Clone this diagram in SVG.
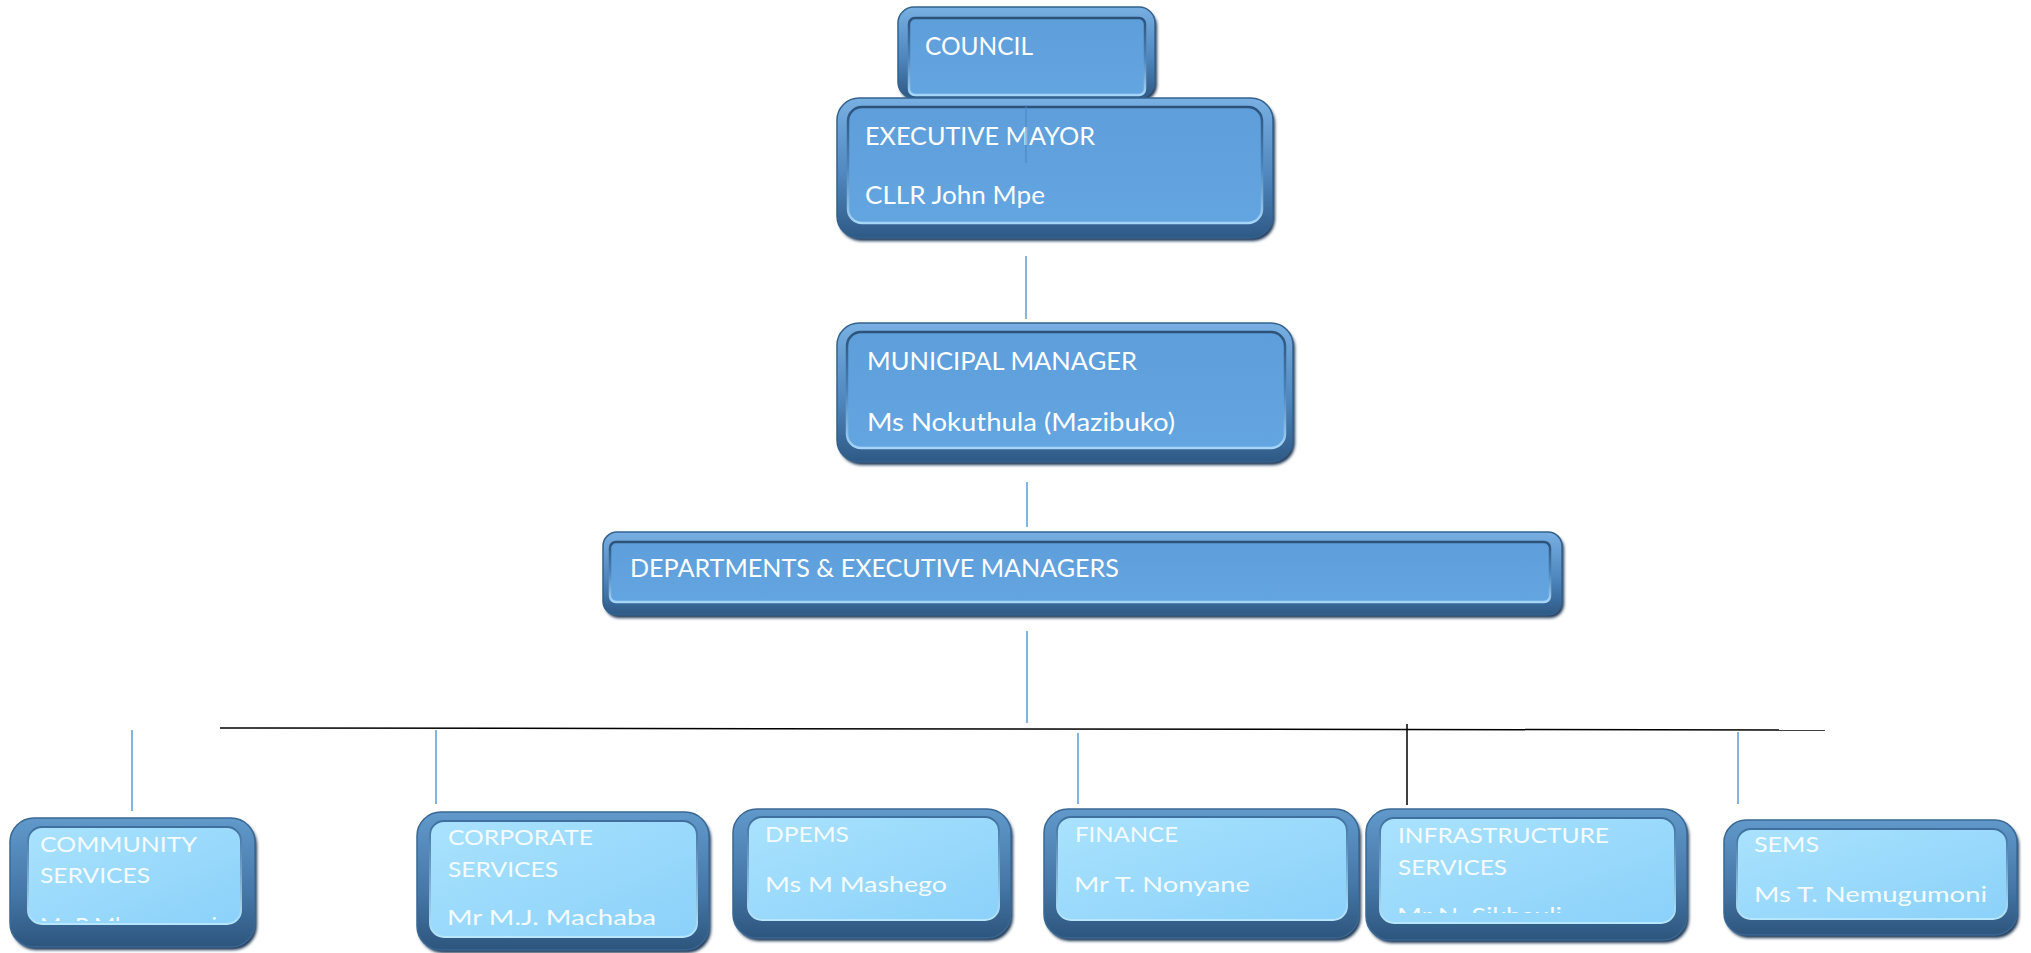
<svg xmlns="http://www.w3.org/2000/svg" width="2031" height="953" viewBox="0 0 2031 953">
<defs>
<linearGradient id="rimT" x1="0" y1="0" x2="0" y2="1">
<stop offset="0" stop-color="#78B0E3"/><stop offset="0.55" stop-color="#4F87BE"/><stop offset="1" stop-color="#2E5985"/>
</linearGradient>
<linearGradient id="faceT" x1="0" y1="0" x2="0" y2="1">
<stop offset="0" stop-color="#5E9FDB"/><stop offset="1" stop-color="#63A5E0"/>
</linearGradient>
<linearGradient id="edgeT" x1="0" y1="0" x2="0" y2="1">
<stop offset="0" stop-color="#2C5279"/><stop offset="0.5" stop-color="#4B82B8"/><stop offset="1" stop-color="#A6D6F8"/>
</linearGradient>
<linearGradient id="rimB" x1="0" y1="0" x2="0" y2="1">
<stop offset="0" stop-color="#6199CB"/><stop offset="0.6" stop-color="#4476A6"/><stop offset="1" stop-color="#2D557D"/>
</linearGradient>
<linearGradient id="faceB" x1="0" y1="0" x2="1" y2="1">
<stop offset="0" stop-color="#A9E2FD"/><stop offset="1" stop-color="#8BD1FA"/>
</linearGradient>
<linearGradient id="edgeB" x1="0" y1="0" x2="0" y2="1">
<stop offset="0" stop-color="#3E6F9E"/><stop offset="1" stop-color="#B7E6FD"/>
</linearGradient>
<filter id="blur" x="-5%" y="-5%" width="110%" height="115%"><feGaussianBlur stdDeviation="1.6"/></filter>
<clipPath id="clipCom"><rect x="28" y="827" width="212" height="94"/></clipPath>
<clipPath id="clipInf"><rect x="1380" y="818" width="295" height="95"/></clipPath>
</defs>
<style>
.sh{fill:#1C3653;filter:url(#blur)}
.rt{fill:url(#rimT);stroke:#34618D;stroke-width:1.5}
.ft{fill:url(#faceT);stroke:url(#edgeT);stroke-width:2.5}
.rb{fill:url(#rimB);stroke:#3A6895;stroke-width:1.5}
.fb{fill:url(#faceB);stroke:url(#edgeB);stroke-width:2}
.tt{font-family:Lato,"Liberation Sans",sans-serif;font-size:25px;fill:#FFFFFF}
.tb{font-family:Lato,"Liberation Sans",sans-serif;font-size:21px;fill:#F4FBFF}
.cb{stroke:#5B9BD5;stroke-width:1.5;fill:none}
.ck{stroke:#000000;stroke-width:1.5;fill:none}
</style>

<g id="council">
<rect class="sh" x="900" y="10" width="257" height="91" rx="16"/>
<rect class="rt" x="898" y="7" width="257" height="91" rx="16"/>
<rect class="ft" x="909" y="18" width="236" height="77" rx="6"/>
<text class="tt" x="925" y="55" textLength="108" lengthAdjust="spacingAndGlyphs">COUNCIL</text>
</g>

<g id="executive-mayor">
<rect class="sh" x="839" y="101" width="436" height="140" rx="22"/>
<rect class="rt" x="837" y="98" width="436" height="140" rx="22"/>
<rect class="ft" x="848" y="107" width="414" height="116" rx="14"/>
<text class="tt" x="865" y="145" textLength="230" lengthAdjust="spacingAndGlyphs">EXECUTIVE MAYOR</text>
<text class="tt" x="865" y="204" textLength="180" lengthAdjust="spacingAndGlyphs">CLLR John Mpe</text>
</g>

<g id="municipal-manager">
<rect class="sh" x="839" y="326" width="456" height="139" rx="22"/>
<rect class="rt" x="837" y="323" width="456" height="139" rx="22"/>
<rect class="ft" x="847" y="332" width="438" height="116" rx="14"/>
<text class="tt" x="867" y="370" textLength="270" lengthAdjust="spacingAndGlyphs">MUNICIPAL MANAGER</text>
<text class="tt" x="867" y="431" textLength="308" lengthAdjust="spacingAndGlyphs">Ms Nokuthula (Mazibuko)</text>
</g>

<g id="departments">
<rect class="sh" x="605" y="535" width="959" height="83" rx="14"/>
<rect class="rt" x="603" y="532" width="959" height="83" rx="14"/>
<rect class="ft" x="610" y="542" width="940" height="60" rx="6"/>
<text class="tt" x="630" y="577" textLength="489" lengthAdjust="spacingAndGlyphs">DEPARTMENTS &amp; EXECUTIVE MANAGERS</text>
</g>

<g id="community-services">
<rect class="sh" x="12" y="821" width="245" height="129" rx="24"/>
<rect class="rb" x="10" y="818" width="245" height="129" rx="24"/>
<rect class="fb" x="28" y="827" width="213" height="97" rx="14"/>
<text class="tb" x="40" y="852" textLength="157" lengthAdjust="spacingAndGlyphs">COMMUNITY</text>
<text class="tb" x="40" y="883" textLength="110" lengthAdjust="spacingAndGlyphs">SERVICES</text>
<text class="tb" x="40" y="933" textLength="177" lengthAdjust="spacingAndGlyphs" clip-path="url(#clipCom)">Mr P Mlamunzeni</text>
</g>

<g id="corporate-services">
<rect class="sh" x="419" y="815" width="292" height="138" rx="24"/>
<rect class="rb" x="417" y="812" width="292" height="138" rx="24"/>
<rect class="fb" x="430" y="821" width="267" height="116" rx="14"/>
<text class="tb" x="448" y="845" textLength="145" lengthAdjust="spacingAndGlyphs">CORPORATE</text>
<text class="tb" x="448" y="877" textLength="110" lengthAdjust="spacingAndGlyphs">SERVICES</text>
<text class="tb" x="447" y="925" textLength="209" lengthAdjust="spacingAndGlyphs">Mr M.J. Machaba</text>
</g>

<g id="dpems">
<rect class="sh" x="735" y="812" width="278" height="129" rx="24"/>
<rect class="rb" x="733" y="809" width="278" height="129" rx="24"/>
<rect class="fb" x="748" y="817" width="251" height="103" rx="14"/>
<text class="tb" x="765" y="842" textLength="84" lengthAdjust="spacingAndGlyphs">DPEMS</text>
<text class="tb" x="765" y="892" textLength="182" lengthAdjust="spacingAndGlyphs">Ms M Mashego</text>
</g>

<g id="finance">
<rect class="sh" x="1046" y="812" width="315" height="129" rx="24"/>
<rect class="rb" x="1044" y="809" width="315" height="129" rx="24"/>
<rect class="fb" x="1057" y="817" width="290" height="103" rx="14"/>
<text class="tb" x="1075" y="842" textLength="103" lengthAdjust="spacingAndGlyphs">FINANCE</text>
<text class="tb" x="1074" y="892" textLength="176" lengthAdjust="spacingAndGlyphs">Mr T. Nonyane</text>
</g>

<g id="infrastructure-services">
<rect class="sh" x="1368" y="812" width="321" height="131" rx="24"/>
<rect class="rb" x="1366" y="809" width="321" height="131" rx="24"/>
<rect class="fb" x="1380" y="818" width="295" height="105" rx="14"/>
<text class="tb" x="1398" y="843" textLength="211" lengthAdjust="spacingAndGlyphs">INFRASTRUCTURE</text>
<text class="tb" x="1398" y="875" textLength="109" lengthAdjust="spacingAndGlyphs">SERVICES</text>
<text class="tb" x="1397" y="923" textLength="165" lengthAdjust="spacingAndGlyphs" clip-path="url(#clipInf)">Mr N. Sikhauli</text>
</g>

<g id="sems">
<rect class="sh" x="1726" y="823" width="293" height="115" rx="22"/>
<rect class="rb" x="1724" y="820" width="293" height="115" rx="22"/>
<rect class="fb" x="1737" y="829" width="270" height="90" rx="14"/>
<text class="tb" x="1754" y="852" textLength="65" lengthAdjust="spacingAndGlyphs">SEMS</text>
<text class="tb" x="1754" y="902" textLength="233" lengthAdjust="spacingAndGlyphs">Ms T. Nemugumoni</text>
</g>

<g id="connectors">
<line x1="1026" y1="105" x2="1026" y2="163" stroke="#4C83BE" stroke-width="1"/>
<line class="cb" x1="1026" y1="256" x2="1026" y2="319"/>
<line class="cb" x1="1027" y1="482" x2="1027" y2="527"/>
<line class="cb" x1="1027" y1="631" x2="1027" y2="723"/>
<line class="ck" x1="220" y1="728" x2="1825" y2="730"/>
<line class="cb" x1="132" y1="730" x2="132" y2="811"/>
<line class="cb" x1="436" y1="730" x2="436" y2="804"/>
<line class="cb" x1="1078" y1="733" x2="1078" y2="804"/>
<line class="ck" x1="1407" y1="724" x2="1407" y2="805"/>
<line class="cb" x1="1738" y1="732" x2="1738" y2="804"/>
</g>
</svg>
